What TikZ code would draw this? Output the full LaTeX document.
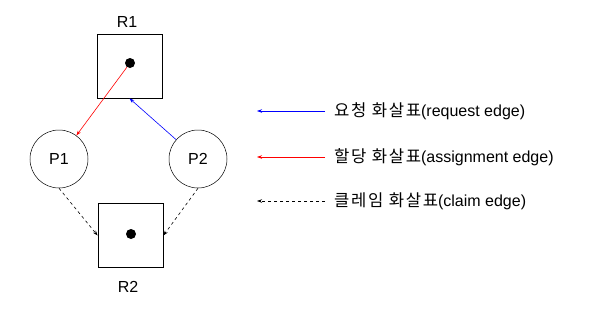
\documentclass[tikz,border=0pt]{standalone}
\usepackage{fontspec}
\setmainfont{Liberation Sans}
\newfontfamily\cjk[Scale=1.04,LetterSpace=10]{Noto Sans CJK KR}
\usetikzlibrary{arrows.meta}
\begin{document}
\begin{tikzpicture}[x=1pt,y=-1pt,
  res/.style={draw,line width=0.8pt,minimum width=65pt,minimum height=64pt,inner sep=0pt},
  proc/.style={draw,circle,line width=0.5pt,minimum size=58pt,inner sep=0pt,font=\fontsize{16}{18}\selectfont},
  lbl/.style={font=\fontsize{16}{18}\selectfont,inner sep=0pt},
  dotm/.style={fill,circle,minimum size=10pt,inner sep=0pt},
  edge/.style={-{Stealth[length=5pt,width=3.5pt]},line width=0.6pt},
  leg/.style={font=\fontsize{16}{18}\selectfont,anchor=west,inner sep=0pt}]
\useasboundingbox (0,0) rectangle (595,322);
\node[res] (R1) at (129.5,66) {};
\node[dotm] (d1) at (130,63) {};
\node[lbl] (R1l) at (127,22) {R1};
\node[res] (R2) at (130.5,235.5) {};
\node[dotm] (d2) at (131,234) {};
\node[lbl] (R2l) at (128,287) {R2};
\node[proc] (P1) at (59,159) {P1};
\node[proc] (P2) at (198,159) {P2};
\draw[edge,red] (d1) -- (P1);
\draw[edge,blue] (P2) -- (R1.south);
\draw[edge,dashed] (P1.south) -- (R2.west);
\draw[edge,dashed] (P2.south) -- (R2.east);
% legend
\coordinate (b1) at (325,111); \coordinate (b0) at (257,111);
\coordinate (r1) at (325,157); \coordinate (r0) at (257,157);
\coordinate (k1) at (325,201); \coordinate (k0) at (257,201);
\draw[edge,blue] (b1) -- (b0);
\draw[edge,red] (r1) -- (r0);
\draw[edge,dashed] (k1) -- (k0);
\node[leg] (t1) at (334,111) {{\cjk 요청 화살표}(request edge)};
\node[leg] (t2) at (334,157) {{\cjk 할당 화살표}(assignment edge)};
\node[leg] (t3) at (334,201) {{\cjk 클레임 화살표}(claim edge)};
\end{tikzpicture}
\end{document}
